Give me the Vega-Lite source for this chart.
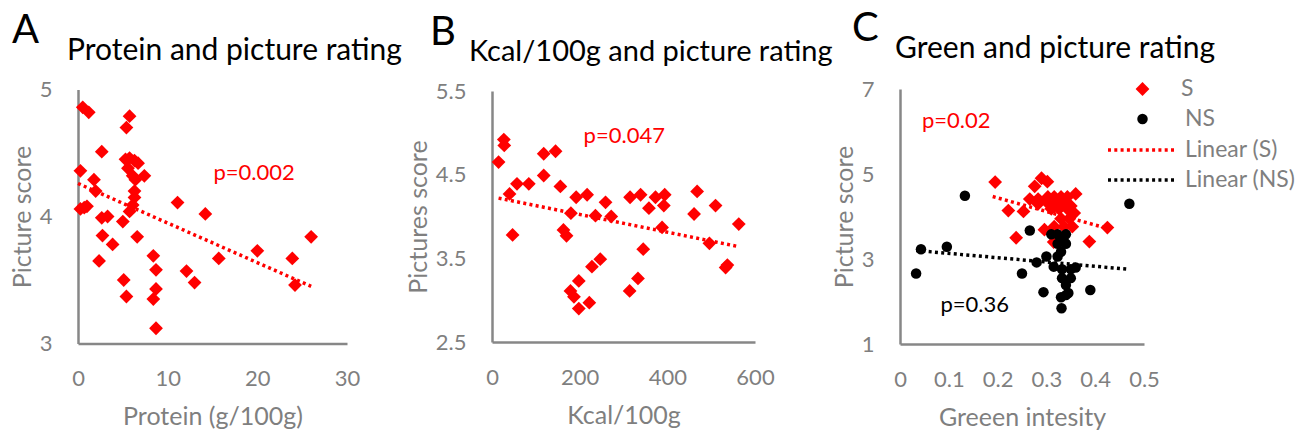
{
  "$schema": "https://vega.github.io/schema/vega-lite/v6.json",
  "background": "white",
  "padding": {"left": 10, "top": 9, "right": 5, "bottom": 5},
  "config": {
    "view": {"stroke": null},
    "font": "Lato",
    "axis": {
      "domainColor": "#878787", "domainWidth": 2.5, "ticks": false, "tickSize": 0, "grid": false,
      "labelColor": "#7f7f7f", "labelFont": "Lato", "labelFontSize": 22, "labelFlush": false, "labelOverlap": false, "labelPadding": 26,
      "titleColor": "#7f7f7f", "titleFont": "Lato", "titleFontSize": 25, "titleFontWeight": "normal"
    },
    "axisX": {"labelPadding": 25, "titlePadding": 15},
    "axisY": {"titlePadding": 4},
    "legend": {"labelFont": "Lato", "labelFontSize": 23, "labelColor": "#7f7f7f", "rowPadding": 6, "columns": 1},
    "title": {"anchor": "start", "frame": "group", "font": "Lato", "fontSize": 40, "fontWeight": "normal", "color": "#000000", "subtitleFont": "Lato", "subtitleFontSize": 30, "subtitleColor": "#000000", "subtitlePadding": -15, "offset": 13}
  },
  "datasets": {
    "protein": [
      {"protein": 0.53, "score": 4.86}, {"protein": 1.2, "score": 4.82}, {"protein": 5.75, "score": 4.79}, {"protein": 5.4, "score": 4.70},
      {"protein": 2.65, "score": 4.51}, {"protein": 0.27, "score": 4.36}, {"protein": 1.78, "score": 4.29}, {"protein": 1.97, "score": 4.20},
      {"protein": 0.27, "score": 4.06}, {"protein": 1.0, "score": 4.08}, {"protein": 0.7, "score": 4.07}, {"protein": 2.65, "score": 3.99},
      {"protein": 3.3, "score": 4.0}, {"protein": 5.0, "score": 3.96}, {"protein": 5.75, "score": 4.04}, {"protein": 6.1, "score": 4.09},
      {"protein": 6.3, "score": 4.15}, {"protein": 6.3, "score": 4.20}, {"protein": 5.3, "score": 4.45}, {"protein": 5.75, "score": 4.46},
      {"protein": 6.3, "score": 4.44}, {"protein": 6.7, "score": 4.42}, {"protein": 5.57, "score": 4.38}, {"protein": 6.1, "score": 4.32},
      {"protein": 6.4, "score": 4.29}, {"protein": 7.4, "score": 4.32}, {"protein": 2.73, "score": 3.85}, {"protein": 3.86, "score": 3.78},
      {"protein": 6.6, "score": 3.84}, {"protein": 2.35, "score": 3.65}, {"protein": 8.4, "score": 3.69}, {"protein": 8.7, "score": 3.58},
      {"protein": 5.1, "score": 3.50}, {"protein": 5.4, "score": 3.37}, {"protein": 8.7, "score": 3.43}, {"protein": 8.4, "score": 3.35},
      {"protein": 8.7, "score": 3.12}, {"protein": 11.1, "score": 4.11}, {"protein": 14.2, "score": 4.02}, {"protein": 12.1, "score": 3.57},
      {"protein": 13.0, "score": 3.48}, {"protein": 15.7, "score": 3.67}, {"protein": 20.0, "score": 3.73}, {"protein": 23.9, "score": 3.67},
      {"protein": 24.2, "score": 3.46}, {"protein": 26.0, "score": 3.84}
    ],
    "trendA": [{"protein": 0, "score": 4.26}, {"protein": 26, "score": 3.45}],
    "kcal": [
      {"kcal": 15, "score": 4.65}, {"kcal": 27, "score": 4.92}, {"kcal": 28, "score": 4.85}, {"kcal": 40, "score": 4.27},
      {"kcal": 47, "score": 3.78}, {"kcal": 57, "score": 4.39}, {"kcal": 84, "score": 4.39}, {"kcal": 118, "score": 4.75},
      {"kcal": 145, "score": 4.78}, {"kcal": 118, "score": 4.49}, {"kcal": 156, "score": 4.36}, {"kcal": 180, "score": 4.04},
      {"kcal": 163, "score": 3.84}, {"kcal": 170, "score": 3.77}, {"kcal": 179, "score": 3.11}, {"kcal": 187, "score": 3.04},
      {"kcal": 198, "score": 3.23}, {"kcal": 198, "score": 2.9}, {"kcal": 222, "score": 2.97}, {"kcal": 228, "score": 3.40},
      {"kcal": 247, "score": 3.49}, {"kcal": 192, "score": 4.23}, {"kcal": 217, "score": 4.26}, {"kcal": 236, "score": 4.01},
      {"kcal": 259, "score": 4.17}, {"kcal": 272, "score": 4.0}, {"kcal": 315, "score": 4.23}, {"kcal": 339, "score": 4.26},
      {"kcal": 314, "score": 3.11}, {"kcal": 333, "score": 3.26}, {"kcal": 345, "score": 3.61}, {"kcal": 358, "score": 4.1},
      {"kcal": 373, "score": 4.23}, {"kcal": 394, "score": 4.26}, {"kcal": 392, "score": 4.13}, {"kcal": 388, "score": 3.87},
      {"kcal": 461, "score": 4.03}, {"kcal": 468, "score": 4.3}, {"kcal": 510, "score": 4.13}, {"kcal": 496, "score": 3.68},
      {"kcal": 537, "score": 3.42}, {"kcal": 533, "score": 3.39}, {"kcal": 563, "score": 3.91}
    ],
    "trendB": [{"kcal": 15, "score": 4.22}, {"kcal": 563, "score": 3.64}],
    "greenS": [
      {"green": 0.195, "score": 4.81, "series": "S"}, {"green": 0.29, "score": 4.90, "series": "S"}, {"green": 0.302, "score": 4.82, "series": "S"},
      {"green": 0.276, "score": 4.71, "series": "S"}, {"green": 0.266, "score": 4.41, "series": "S"}, {"green": 0.283, "score": 4.41, "series": "S"},
      {"green": 0.303, "score": 4.46, "series": "S"}, {"green": 0.316, "score": 4.46, "series": "S"}, {"green": 0.33, "score": 4.46, "series": "S"},
      {"green": 0.343, "score": 4.46, "series": "S"}, {"green": 0.36, "score": 4.53, "series": "S"}, {"green": 0.222, "score": 4.14, "series": "S"},
      {"green": 0.253, "score": 4.12, "series": "S"}, {"green": 0.283, "score": 4.30, "series": "S"}, {"green": 0.31, "score": 4.18, "series": "S"},
      {"green": 0.326, "score": 4.18, "series": "S"}, {"green": 0.343, "score": 4.18, "series": "S"}, {"green": 0.357, "score": 4.08, "series": "S"},
      {"green": 0.33, "score": 3.95, "series": "S"}, {"green": 0.347, "score": 3.95, "series": "S"}, {"green": 0.296, "score": 3.69, "series": "S"},
      {"green": 0.316, "score": 3.76, "series": "S"}, {"green": 0.336, "score": 3.76, "series": "S"}, {"green": 0.353, "score": 3.76, "series": "S"},
      {"green": 0.238, "score": 3.50, "series": "S"}, {"green": 0.425, "score": 3.74, "series": "S"}, {"green": 0.388, "score": 3.41, "series": "S"},
      {"green": 0.315, "score": 3.40, "series": "S"}, {"green": 0.30, "score": 4.35, "series": "S"}, {"green": 0.32, "score": 4.30, "series": "S"},
      {"green": 0.34, "score": 4.32, "series": "S"}, {"green": 0.35, "score": 4.25, "series": "S"}
    ],
    "greenNS": [
      {"green": 0.133, "score": 4.49, "series": "NS"}, {"green": 0.47, "score": 4.30, "series": "NS"}, {"green": 0.043, "score": 3.23, "series": "NS"},
      {"green": 0.096, "score": 3.29, "series": "NS"}, {"green": 0.033, "score": 2.66, "series": "NS"}, {"green": 0.266, "score": 3.67, "series": "NS"},
      {"green": 0.25, "score": 2.66, "series": "NS"}, {"green": 0.28, "score": 2.92, "series": "NS"}, {"green": 0.30, "score": 3.06, "series": "NS"},
      {"green": 0.294, "score": 2.22, "series": "NS"}, {"green": 0.39, "score": 2.27, "series": "NS"}, {"green": 0.31, "score": 3.58, "series": "NS"},
      {"green": 0.323, "score": 3.58, "series": "NS"}, {"green": 0.34, "score": 3.58, "series": "NS"}, {"green": 0.323, "score": 3.36, "series": "NS"},
      {"green": 0.34, "score": 3.36, "series": "NS"}, {"green": 0.33, "score": 3.17, "series": "NS"}, {"green": 0.323, "score": 3.06, "series": "NS"},
      {"green": 0.315, "score": 2.82, "series": "NS"}, {"green": 0.332, "score": 2.76, "series": "NS"}, {"green": 0.35, "score": 2.76, "series": "NS"},
      {"green": 0.36, "score": 2.80, "series": "NS"}, {"green": 0.332, "score": 2.55, "series": "NS"}, {"green": 0.35, "score": 2.55, "series": "NS"},
      {"green": 0.34, "score": 2.39, "series": "NS"}, {"green": 0.34, "score": 2.15, "series": "NS"}, {"green": 0.33, "score": 2.10, "series": "NS"},
      {"green": 0.345, "score": 2.20, "series": "NS"}, {"green": 0.331, "score": 1.84, "series": "NS"}, {"green": 0.335, "score": 3.45, "series": "NS"}
    ],
    "trendC": [
      {"green": 0.19, "score": 4.47, "series": "Linear (S)"}, {"green": 0.425, "score": 3.72, "series": "Linear (S)"},
      {"green": 0.033, "score": 3.20, "series": "Linear (NS)"}, {"green": 0.467, "score": 2.76, "series": "Linear (NS)"}
    ]
  },
  "spacing": 145,
  "bounds": "flush",
  "center": true,
  "resolve": {
    "scale": {"shape": "independent", "fill": "independent", "stroke": "independent", "strokeDash": "independent"},
    "legend": {"shape": "independent", "fill": "independent", "stroke": "independent", "strokeDash": "independent"}
  },
  "hconcat": [
    {
      "width": 269, "height": 254,
      "title": {"text": "A", "subtitle": "Protein and picture rating", "dx": -66, "fontSize": 40, "subtitleFontSize": 30,
        "encode": {"subtitle": {"update": {"dx": {"value": -11}}}}},
      "layer": [
        {
          "data": {"name": "protein"},
          "mark": {"type": "point", "shape": "diamond", "filled": true, "size": 190, "color": "#ff0000", "opacity": 1, "strokeWidth": 0},
          "encoding": {
            "x": {"field": "protein", "type": "quantitative", "scale": {"domain": [0, 30], "nice": false, "zero": false}, "axis": {"values": [0, 10, 20, 30], "format": "d", "labelOverlap": false, "title": "Protein (g/100g)"}},
            "y": {"field": "score", "type": "quantitative", "scale": {"domain": [3, 5], "nice": false, "zero": false}, "axis": {"values": [3, 4, 5], "format": "~g", "labelOverlap": false, "title": "Picture score"}}
          }
        },
        {
          "data": {"name": "trendA"},
          "mark": {"type": "line", "color": "#ff0000", "strokeWidth": 3.5, "strokeDash": [3, 3.3]},
          "encoding": {
            "x": {"field": "protein", "type": "quantitative"},
            "y": {"field": "score", "type": "quantitative"}
          }
        },
        {
          "data": {"values": [{"protein": 15.1, "score": 4.29, "label": "p=0.002"}]},
          "mark": {"type": "text", "align": "left", "baseline": "alphabetic", "fontSize": 22, "font": "Lato", "color": "#ff0000"},
          "encoding": {
            "x": {"field": "protein", "type": "quantitative"},
            "y": {"field": "score", "type": "quantitative"},
            "text": {"field": "label"}
          }
        }
      ]
    },
    {
      "width": 263, "height": 251,
      "title": {"text": "B", "subtitle": "Kcal/100g and picture rating", "dx": -62, "fontSize": 40, "subtitleFontSize": 29,
        "encode": {"subtitle": {"update": {"dx": {"value": -23}}}}},
      "layer": [
        {
          "data": {"name": "kcal"},
          "mark": {"type": "point", "shape": "diamond", "filled": true, "size": 190, "color": "#ff0000", "opacity": 1, "strokeWidth": 0},
          "encoding": {
            "x": {"field": "kcal", "type": "quantitative", "scale": {"domain": [0, 600], "nice": false, "zero": false}, "axis": {"values": [0, 200, 400, 600], "format": "d", "labelOverlap": false, "title": "Kcal/100g"}},
            "y": {"field": "score", "type": "quantitative", "scale": {"domain": [2.5, 5.5], "nice": false, "zero": false}, "axis": {"values": [2.5, 3.5, 4.5, 5.5], "format": ".1f", "labelOverlap": false, "title": "Pictures score"}}
          }
        },
        {
          "data": {"name": "trendB"},
          "mark": {"type": "line", "color": "#ff0000", "strokeWidth": 3.5, "strokeDash": [3, 3.3]},
          "encoding": {
            "x": {"field": "kcal", "type": "quantitative"},
            "y": {"field": "score", "type": "quantitative"}
          }
        },
        {
          "data": {"values": [{"kcal": 209, "score": 4.88, "label": "p=0.047"}]},
          "mark": {"type": "text", "align": "left", "baseline": "alphabetic", "fontSize": 22, "font": "Lato", "color": "#ff0000"},
          "encoding": {
            "x": {"field": "kcal", "type": "quantitative"},
            "y": {"field": "score", "type": "quantitative"},
            "text": {"field": "label"}
          }
        }
      ]
    },
    {
      "width": 244, "height": 255,
      "title": {"text": "C", "subtitle": "Green and picture rating", "dx": -48, "fontSize": 40, "subtitleFontSize": 30,
        "encode": {"subtitle": {"update": {"dx": {"value": -5}}}}},
      "layer": [
        {
          "data": {"name": "greenS"},
          "mark": {"type": "point", "filled": true, "color": "#ff0000", "opacity": 1, "strokeWidth": 0, "size": 190},
          "encoding": {
            "x": {"field": "green", "type": "quantitative", "scale": {"domain": [0, 0.5], "nice": false, "zero": false}, "axis": {"values": [0, 0.1, 0.2, 0.3, 0.4, 0.5], "format": "~g", "labelOverlap": false, "title": "Greeen intesity"}},
            "y": {"field": "score", "type": "quantitative", "scale": {"domain": [1, 7], "nice": false, "zero": false}, "axis": {"values": [1, 3, 5, 7], "format": "~g", "labelOverlap": false, "title": "Picture score"}},
            "shape": {
              "field": "series", "type": "nominal",
              "scale": {"domain": ["S"], "range": ["diamond"]},
              "legend": {"title": null, "orient": "none", "legendX": 231, "legendY": -12, "labelOffset": 27, "symbolSize": 190, "symbolFillColor": "#ff0000", "symbolStrokeWidth": 0, "clipHeight": 24}
            }
          }
        },
        {
          "data": {"name": "greenNS"},
          "mark": {"type": "point", "shape": "circle", "filled": true, "opacity": 1, "strokeWidth": 0, "size": 110},
          "encoding": {
            "x": {"field": "green", "type": "quantitative"},
            "y": {"field": "score", "type": "quantitative"},
            "fill": {
              "field": "series", "type": "nominal",
              "scale": {"domain": ["NS"], "range": ["#000000"]},
              "legend": {"title": null, "orient": "none", "legendX": 231, "legendY": 18, "labelOffset": 31, "symbolType": "circle", "symbolSize": 110, "clipHeight": 24}
            }
          }
        },
        {
          "data": {"name": "trendC"},
          "mark": {"type": "line", "strokeWidth": 3.5},
          "encoding": {
            "x": {"field": "green", "type": "quantitative"},
            "y": {"field": "score", "type": "quantitative"},
            "stroke": {
              "field": "series", "type": "nominal",
              "scale": {"domain": ["Linear (S)", "Linear (NS)"], "range": ["#ff0000", "#000000"]},
              "legend": {"title": null, "orient": "none", "legendX": 206, "legendY": 49, "labelOffset": 8, "symbolType": "stroke", "symbolSize": 4489, "symbolStrokeWidth": 3.5, "clipHeight": 24}
            },
            "strokeDash": {
              "field": "series", "type": "nominal",
              "scale": {"domain": ["Linear (S)", "Linear (NS)"], "range": [[3, 3.3], [3, 3.3]]},
              "legend": {"title": null, "orient": "none", "legendX": 206, "legendY": 49, "labelOffset": 8, "symbolType": "stroke", "symbolSize": 4489, "symbolStrokeWidth": 3.5, "clipHeight": 24}
            }
          }
        },
        {
          "data": {"values": [{"green": 0.045, "score": 6.09, "label": "p=0.02"}]},
          "mark": {"type": "text", "align": "left", "baseline": "alphabetic", "fontSize": 22, "font": "Lato", "color": "#ff0000"},
          "encoding": {
            "x": {"field": "green", "type": "quantitative"},
            "y": {"field": "score", "type": "quantitative"},
            "text": {"field": "label"}
          }
        },
        {
          "data": {"values": [{"green": 0.083, "score": 1.75, "label": "p=0.36"}]},
          "mark": {"type": "text", "align": "left", "baseline": "alphabetic", "fontSize": 22, "font": "Lato", "color": "#000000"},
          "encoding": {
            "x": {"field": "green", "type": "quantitative"},
            "y": {"field": "score", "type": "quantitative"},
            "text": {"field": "label"}
          }
        }
      ]
    }
  ]
}
